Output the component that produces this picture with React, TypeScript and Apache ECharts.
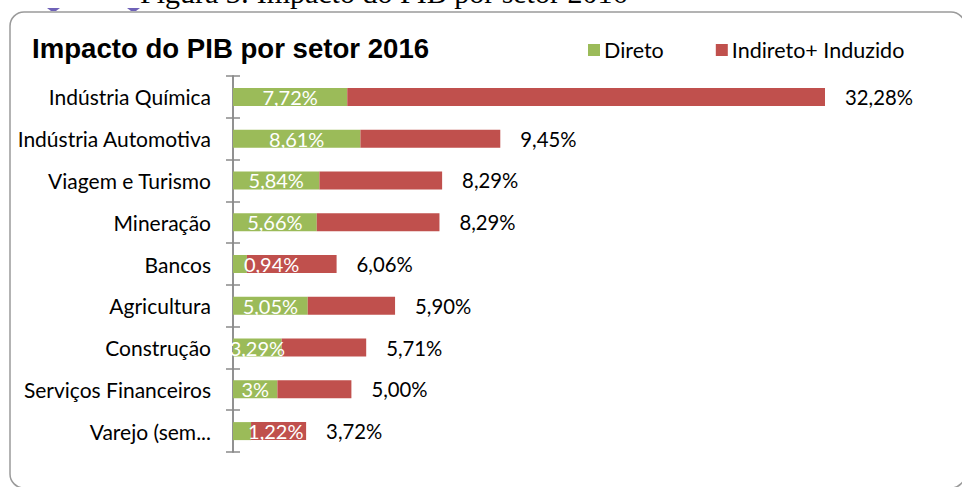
import React, { useEffect, useRef } from "react";
import * as echarts from "echarts";

const categories = [
  "Indústria Química",
  "Indústria Automotiva",
  "Viagem e Turismo",
  "Mineração",
  "Bancos",
  "Agricultura",
  "Construção",
  "Serviços Financeiros",
  "Varejo (sem...",
];
const direto = [7.72, 8.61, 5.84, 5.66, 0.94, 5.05, 3.29, 3, 1.22];
const diretoLabels = ["7,72%", "8,61%", "5,84%", "5,66%", "0,94%", "5,05%", "3,29%", "3%", "1,22%"];
const indireto = [32.28, 9.45, 8.29, 8.29, 6.06, 5.9, 5.71, 5.0, 3.72];

const seriesNames = ["Direto", "Indireto+ Induzido"];
const title = "Impacto do PIB por setor 2016";
const caption = "Figura 3: Impacto do PIB por setor 2016";

const GREEN = "#9BBB59";
const RED = "#C0504D";
const FONT = "Lato, 'Open Sans', sans-serif";

export default function App() {
  const ref = useRef<HTMLDivElement>(null);
  useEffect(() => {
    if (!ref.current) return;
    const chart = echarts.init(ref.current, undefined, { renderer: "svg" });
    const fmt = (v: number) => v.toFixed(2).replace(".", ",") + "%";
    const yAxisBase = {
      type: "category",
      data: categories,
      inverse: true,
      axisLine: { show: true, lineStyle: { color: "#8a8a8a", width: 1.5 } },
      splitLine: { show: false },
    };
    chart.setOption({
      animation: false,
      backgroundColor: "#ffffff",
      textStyle: { fontFamily: FONT },
      title: {
        text: title,
        left: 27,
        top: 29,
        textStyle: {
          fontFamily: "'Liberation Sans', Arial, sans-serif",
          fontWeight: "bold",
          fontSize: 27.6,
          color: "#000",
        },
      },
      legend: {
        data: seriesNames,
        left: 583,
        top: 34,
        itemWidth: 12,
        itemHeight: 12,
        itemGap: 52,
        icon: "rect",
        textStyle: { fontFamily: FONT, fontSize: 21.5, color: "#000", padding: [0, 0, 0, -1] },
      },
      grid: { left: 233, right: 63, top: 76, height: 376, containLabel: false },
      xAxis: { type: "value", min: 0, max: 45, show: false },
      yAxis: [
        {
          ...yAxisBase,
          axisTick: { show: true, inside: false, length: 7, lineStyle: { color: "#8a8a8a", width: 1.5 } },
          axisLabel: { margin: 22, fontFamily: FONT, fontSize: 21, color: "#000" },
        },
        {
          ...yAxisBase,
          position: "left",
          axisTick: { show: true, inside: true, length: 7, lineStyle: { color: "#8a8a8a", width: 1.5 } },
          axisLabel: { show: false },
        },
      ],
      series: [
        {
          name: seriesNames[0],
          type: "bar",
          stack: "total",
          barWidth: 18,
          itemStyle: { color: GREEN },
          data: direto.map((v) =>
            v < 2
              ? { value: v, label: { position: "right", distance: -3 } }
              : { value: v }
          ),
          label: {
            show: true,
            position: "inside",
            color: "#ffffff",
            fontFamily: FONT,
            fontSize: 20,
            formatter: (p: any) => diretoLabels[p.dataIndex],
          },
        },
        {
          name: seriesNames[1],
          type: "bar",
          stack: "total",
          barWidth: 18,
          itemStyle: { color: RED },
          data: indireto,
          label: {
            show: true,
            position: "right",
            distance: 20,
            color: "#000",
            fontFamily: FONT,
            fontSize: 20.3,
            formatter: (p: any) => fmt(p.value),
          },
        },
      ],
      graphic: [
        {
          type: "rect",
          shape: { x: 10, y: 12, width: 955, height: 476, r: 14 },
          style: { fill: "none", stroke: "#9a9a9a", lineWidth: 1.5 },
          silent: true,
        },
        {
          type: "text",
          x: 140,
          y: 7,
          style: {
            text: caption,
            font: "30px 'Liberation Serif', 'Times New Roman', serif",
            fill: "#000",
            verticalAlign: "bottom",
          },
          silent: true,
        },
        {
          type: "polygon",
          shape: { points: [[47, 8], [60, 8], [56, 11], [51, 11]] },
          style: { fill: "#6f62b8" },
          silent: true,
        },
        {
          type: "polygon",
          shape: { points: [[127, 8], [140, 8], [136, 11], [131, 11]] },
          style: { fill: "#6f62b8" },
          silent: true,
        },
      ],
    });
    return () => chart.dispose();
  }, []);
  return (
    <div
      ref={ref}
      style={{ position: "fixed", left: 0, top: 0, width: 962, height: 487 }}
    />
  );
}
